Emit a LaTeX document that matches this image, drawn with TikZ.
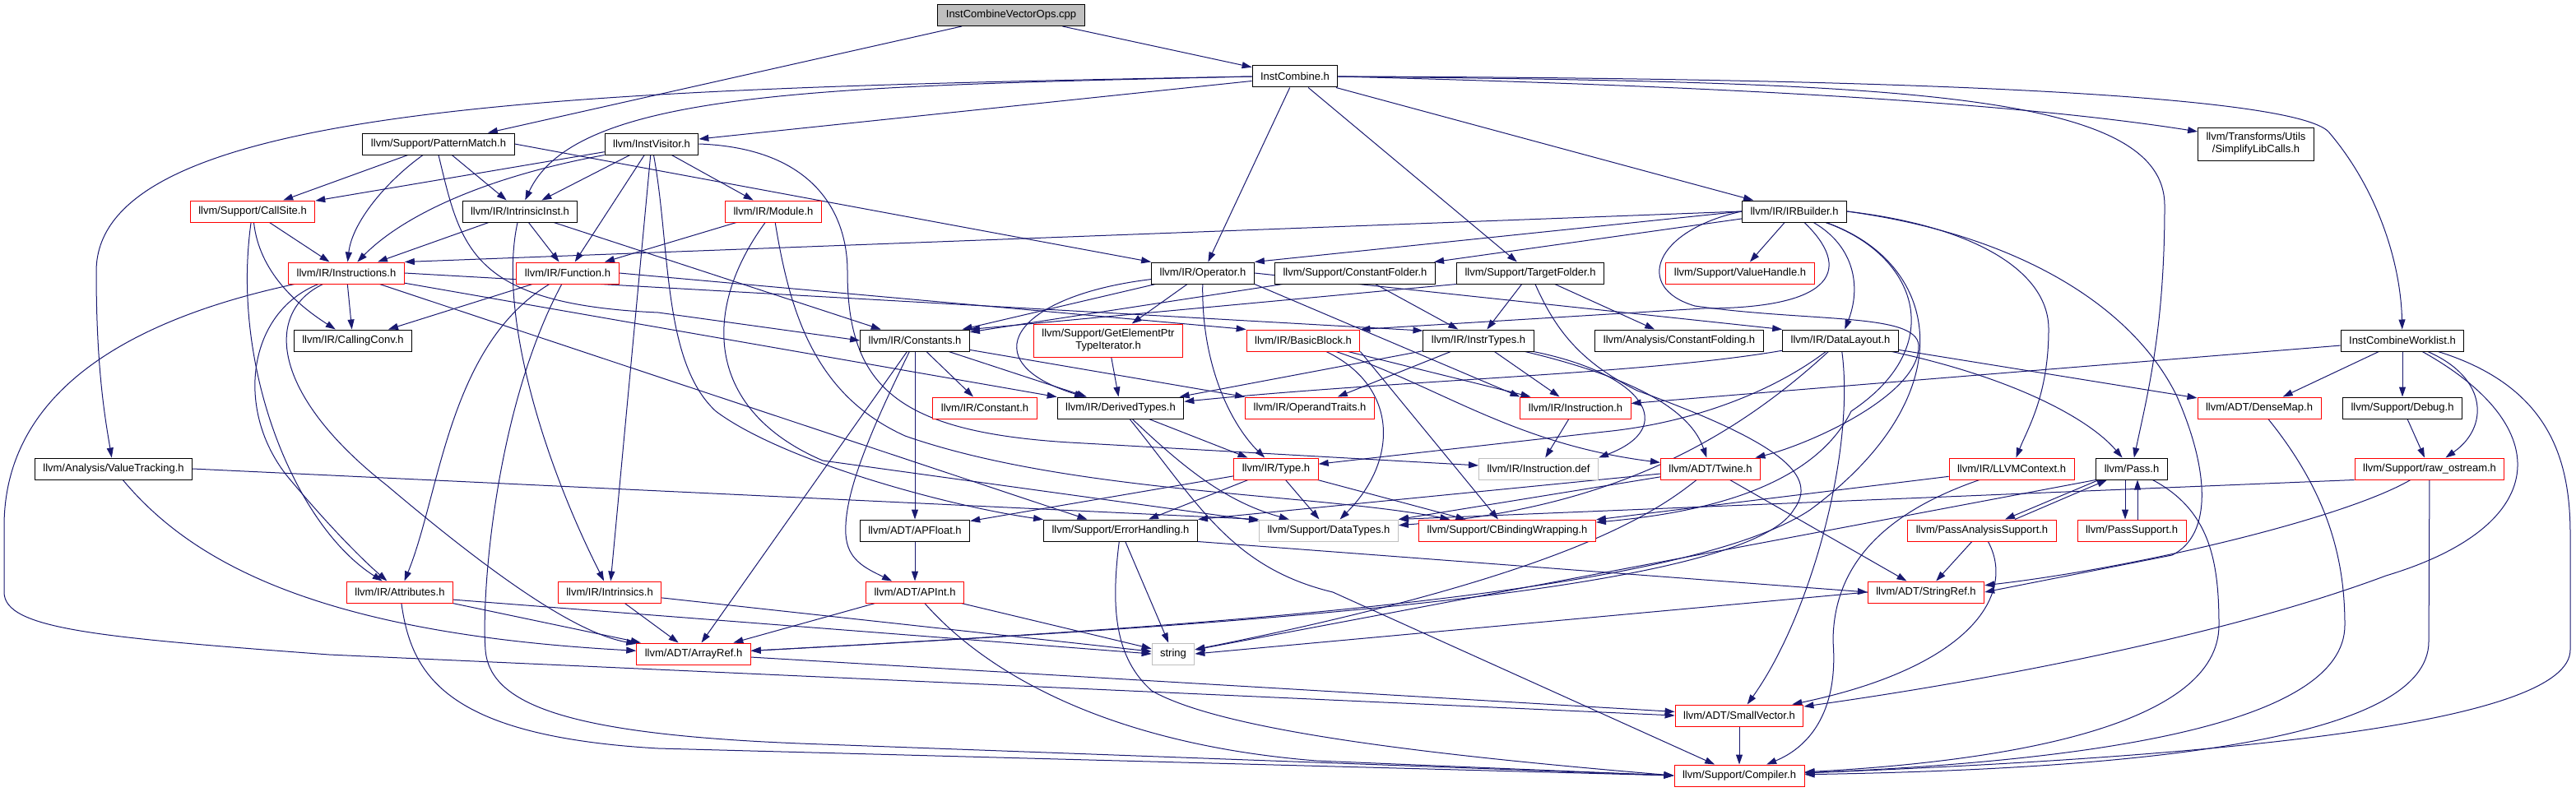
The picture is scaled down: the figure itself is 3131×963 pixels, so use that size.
\documentclass[tikz,border=0pt]{standalone}
\usepackage{fontspec}
\setmainfont{Liberation Sans}
\usetikzlibrary{arrows.meta}
\definecolor{edgeblue}{HTML}{191970}
\definecolor{greyseventyfive}{HTML}{BFBFBF}
\pgfdeclarelayer{bg}
\pgfsetlayers{bg,main}
\begin{document}
\begin{tikzpicture}[x=1pt,y=-1pt,
  nb/.style={draw=black, line width=1.0pt, fill=white, rectangle, minimum height=26pt, inner xsep=10pt, inner ysep=2pt, font=\fontsize{13}{15}\selectfont, text=black},
  rb/.style={nb, draw=red},
  gb/.style={nb, draw=greyseventyfive},
  dep/.style={draw=edgeblue, line width=1.0pt, -{Triangle[length=12pt,width=8pt]}}]
\useasboundingbox (0,0) rectangle (3131,963);

\node[nb, fill=greyseventyfive] (cpp) at (1229,18.5) {InstCombineVectorOps.cpp};
\node[nb] (icomb) at (1574,93) {InstCombine.h};
\node[nb] (pm) at (533,175) {llvm/Support/PatternMatch.h};
\node[nb] (iv) at (792,175) {llvm/InstVisitor.h};
\node[nb, align=center, minimum height=40pt] (slc) at (2742,175) {llvm/Transforms/Utils\\/SimplifyLibCalls.h};
\node[rb] (cs) at (307,257) {llvm/Support/CallSite.h};
\node[nb] (ii) at (632,257) {llvm/IR/IntrinsicInst.h};
\node[rb] (mod) at (940,257) {llvm/IR/Module.h};
\node[nb] (irb) at (2181,257) {llvm/IR/IRBuilder.h};
\node[rb] (insts) at (421,332) {llvm/IR/Instructions.h};
\node[rb] (fn) at (690,332) {llvm/IR/Function.h};
\node[nb] (op) at (1462,332) {llvm/IR/Operator.h};
\node[nb] (cfold) at (1647,332) {llvm/Support/ConstantFolder.h};
\node[nb] (tfold) at (1860,332) {llvm/Support/TargetFolder.h};
\node[rb] (vh) at (2115,332) {llvm/Support/ValueHandle.h};
\node[nb] (cc) at (429,414) {llvm/IR/CallingConv.h};
\node[nb] (consts) at (1112,414) {llvm/IR/Constants.h};
\node[rb, align=center, minimum height=40pt] (gep) at (1347,414) {llvm/Support/GetElementPtr\\TypeIterator.h};
\node[rb] (bb) at (1584,414) {llvm/IR/BasicBlock.h};
\node[nb] (itypes) at (1797,414) {llvm/IR/InstrTypes.h};
\node[nb] (cfolding) at (2041,414) {llvm/Analysis/ConstantFolding.h};
\node[nb] (dl) at (2237,414) {llvm/IR/DataLayout.h};
\node[nb] (icw) at (2920,414) {InstCombineWorklist.h};
\node[rb] (cnst) at (1197,496) {llvm/IR/Constant.h};
\node[nb] (dt) at (1362,496) {llvm/IR/DerivedTypes.h};
\node[rb] (ot) at (1592,496) {llvm/IR/OperandTraits.h};
\node[rb] (inst) at (1915,496) {llvm/IR/Instruction.h};
\node[rb] (dm) at (2746,496) {llvm/ADT/DenseMap.h};
\node[nb] (dbg) at (2920,496) {llvm/Support/Debug.h};
\node[nb] (vt) at (138,570) {llvm/Analysis/ValueTracking.h};
\node[rb] (type) at (1551,570) {llvm/IR/Type.h};
\node[gb] (idef) at (1870,570) {llvm/IR/Instruction.def};
\node[rb] (twine) at (2079,570) {llvm/ADT/Twine.h};
\node[rb] (ctx) at (2445,570) {llvm/IR/LLVMContext.h};
\node[nb] (pass) at (2591,570) {llvm/Pass.h};
\node[rb] (ros) at (2953,570) {llvm/Support/raw\_ostream.h};
\node[nb] (apf) at (1112,645) {llvm/ADT/APFloat.h};
\node[nb] (eh) at (1362,645) {llvm/Support/ErrorHandling.h};
\node[gb] (dtypes) at (1615,645) {llvm/Support/DataTypes.h};
\node[rb] (cbw) at (1832,645) {llvm/Support/CBindingWrapping.h};
\node[rb] (pas) at (2409,645) {llvm/PassAnalysisSupport.h};
\node[rb] (ps) at (2591,645) {llvm/PassSupport.h};
\node[rb] (attr) at (486,720) {llvm/IR/Attributes.h};
\node[rb] (intr) at (741,720) {llvm/IR/Intrinsics.h};
\node[rb] (apint) at (1112,720) {llvm/ADT/APInt.h};
\node[rb] (sref) at (2341,720) {llvm/ADT/StringRef.h};
\node[rb] (aref) at (843,795) {llvm/ADT/ArrayRef.h};
\node[gb] (str) at (1426,795) {string};
\node[rb] (sv) at (2114,870) {llvm/ADT/SmallVector.h};
\node[rb] (comp) at (2114,943) {llvm/Support/Compiler.h};

\begin{pgfonlayer}{bg}
% root
\draw[dep] (cpp) -- (icomb);
\draw[dep] (cpp) -- (pm);
% InstCombine.h
\draw[dep] (icomb) -- (iv);
\draw[dep] (icomb.west) .. controls (1000,105) and (700,110) .. (ii);
\draw[dep] (icomb.west) .. controls (700,108) and (117,125) .. (117,330) .. controls (117,450) and (128,510) .. (vt);
\draw[dep] (icomb) -- (op);
\draw[dep] (icomb) -- (tfold);
\draw[dep] (icomb) -- (irb);
\draw[dep] (icomb.east) .. controls (2100,105) and (2450,125) .. ([yshift=15pt]slc.west);
\draw[dep] (icomb.east) .. controls (2300,100) and (2631,110) .. (2631,250) .. controls (2631,400) and (2610,480) .. (pass);
\draw[dep] (icomb.east) .. controls (2400,95) and (2790,120) .. (2830,160) .. controls (2890,230) and (2918,320) .. (icw);
% PatternMatch
\draw[dep] (pm) -- (cs);
\draw[dep] (pm) .. controls (470,220) and (428,270) .. (insts);
\draw[dep] (pm) -- (ii);
\draw[dep] (pm.east) -- (op.north west);
\draw[dep] (pm.south) .. controls (560,300) and (570,370) .. (800,380) -- (consts.west);
% InstVisitor
\draw[dep] (iv) -- (cs);
\draw[dep] (iv.south west) .. controls (590,215) and (490,262) .. (insts);
\draw[dep] (iv) -- (ii);
\draw[dep] (iv) -- (fn);
\draw[dep] (iv) -- (intr);
\draw[dep] (iv) -- (mod);
\draw[dep] (iv) .. controls (815,300) and (805,440) .. (870,500) .. controls (950,560) and (1150,615) .. (eh);
\draw[dep] (iv.east) .. controls (990,180) and (1030,260) .. (1030,330) .. controls (1030,470) and (1090,525) .. (1300,538) -- (idef);
% CallSite
\draw[dep] (cs) -- (insts);
\draw[dep] (cs) .. controls (315,330) and (360,370) .. (cc);
\draw[dep] (cs) .. controls (280,450) and (360,640) .. (attr);
% IntrinsicInst
\draw[dep] (ii) -- (insts);
\draw[dep] (ii) -- (fn);
\draw[dep] (ii) -- (consts);
\draw[dep] (ii) .. controls (605,380) and (660,560) .. (intr);
% Module
\draw[dep] (mod) -- (fn);
\draw[dep] (mod) .. controls (850,380) and (860,500) .. (1000,560) -- (dtypes);
\draw[dep] (mod) .. controls (960,380) and (990,480) .. (1100,530) .. controls (1300,600) and (1600,600) .. (cbw);
% Function
\draw[dep] (fn) -- (cc);
\draw[dep] (fn) .. controls (545,420) and (535,600) .. (attr);
\draw[dep] (fn.east) -- (bb.north west);
\draw[dep] (fn) .. controls (600,500) and (585,730) .. (590,790) .. controls (595,860) and (700,895) .. (1000,905) -- (comp.west);
% Instructions
\draw[dep] (insts) -- (cc);
\draw[dep] (insts) .. controls (300,380) and (285,500) .. (350,580) .. controls (400,640) and (440,680) .. (attr);
\draw[dep] (insts) .. controls (320,380) and (330,480) .. (470,590) .. controls (600,700) and (700,770) .. (aref);
\draw[dep] (insts) .. controls (150,390) and (5,480) .. (5,640) -- (5,720) .. controls (5,765) and (120,775) .. (400,796) -- (sv.west);
\draw[dep] (insts) -- (eh);
\draw[dep] (insts) -- (dt);
\draw[dep] (insts.east) -- (itypes.170);
% Operator
\draw[dep] (op) -- (consts);
\draw[dep] (op) -- (gep);
\draw[dep] (op) .. controls (1460,450) and (1500,520) .. (type);
\draw[dep] (op) .. controls (1230,360) and (1180,440) .. (dt);
\draw[dep] (op.east) -- (dl.north west);
\draw[dep] (op.south east) -- (inst.north west);
% ConstantFolder
\draw[dep] (cfold) -- (consts);
\draw[dep] (cfold) -- (itypes);
% TargetFolder
\draw[dep] (tfold.south west) -- (consts.north east);
\draw[dep] (tfold) -- (itypes);
\draw[dep] (tfold) -- (cfolding);
\draw[dep] (tfold) .. controls (1890,400) and (1920,440) .. (1990,475) .. controls (2170,540) and (2210,580) .. (2180,620) .. controls (2120,720) and (1500,760) .. (aref);
% IRBuilder
\draw[dep] (irb.west) -- (insts.north east);
\draw[dep] (irb.west) -- (op.north east);
\draw[dep] (irb) -- (cfold);
\draw[dep] ([xshift=12pt]irb.south) .. controls (2250,325) and (2235,375) .. (2070,375) -- (bb.north east);
\draw[dep] (irb) -- (vh);
\draw[dep] (irb) .. controls (2255,300) and (2262,350) .. (dl);
\draw[dep] (irb.west) .. controls (2010,280) and (1985,350) .. (2060,372) .. controls (2200,392) and (2330,380) .. (2332,420) .. controls (2334,480) and (2200,540) .. (twine);
\draw[dep] (irb) .. controls (2330,310) and (2370,420) .. (2250,500) .. controls (2200,600) and (2050,625) .. (cbw);
\draw[dep] (irb) .. controls (2360,320) and (2390,480) .. (2200,620) .. controls (2050,720) and (1500,760) .. (aref);
\draw[dep] (irb.east) .. controls (2400,275) and (2490,330) .. (2490,400) .. controls (2490,480) and (2465,520) .. (ctx);
\draw[dep] (irb.east) .. controls (2450,285) and (2590,370) .. (2645,480) .. controls (2685,570) and (2690,650) .. (2640,675) -- (sref.east);
% Constants
\draw[dep] (consts) -- (apf);
\draw[dep] (consts) -- (cnst);
\draw[dep] (consts) -- (dt);
\draw[dep] (consts) -- (ot);
\draw[dep] (consts) -- (aref);
\draw[dep] (consts) .. controls (1060,520) and (1025,600) .. (1028,650) .. controls (1030,680) and (1050,690) .. (apint);
% GetElementPtrTypeIterator
\draw[dep] (gep) -- (dt);
% BasicBlock
\draw[dep] (bb) -- (inst);
\draw[dep] (bb) .. controls (1700,470) and (1700,560) .. (dtypes);
\draw[dep] (bb.south east) -- (cbw);
\draw[dep] (bb) .. controls (1750,470) and (1840,540) .. (twine);
% InstrTypes
\draw[dep] (itypes) -- (dt);
\draw[dep] (itypes) -- (ot);
\draw[dep] (itypes) -- (inst);
\draw[dep] (itypes) .. controls (2000,455) and (2040,520) .. (idef.north east);
\draw[dep] (itypes) .. controls (1990,460) and (2055,500) .. (twine);
% DataLayout
\draw[dep] (dl) -- (dm);
\draw[dep] (dl) .. controls (2450,460) and (2540,510) .. (pass);
\draw[dep] (dl) .. controls (2255,550) and (2200,750) .. (sv);
\draw[dep] (dl) .. controls (2150,480) and (2050,515) .. (1950,525) -- (type);
\draw[dep] (dl) .. controls (2000,455) and (1700,462) .. (dt);
\draw[dep] (dl) .. controls (2100,540) and (1950,620) .. (dtypes);
% InstCombineWorklist
\draw[dep] (icw) -- (inst);
\draw[dep] (icw) -- (dm);
\draw[dep] (icw) -- (dbg);
\draw[dep] (icw) .. controls (3025,460) and (3025,520) .. (ros);
\draw[dep] (icw) .. controls (3110,520) and (3100,640) .. (2900,700) .. controls (2700,775) and (2400,830) .. (sv);
\draw[dep] (icw) .. controls (3100,470) and (3124,560) .. (3124,650) -- (3124,790) .. controls (3124,880) and (2700,920) .. (comp);
% DenseMap
\draw[dep] (dm) .. controls (2830,600) and (2850,680) .. (2850,760) .. controls (2850,880) and (2550,925) .. (comp);
% Debug
\draw[dep] (dbg) -- (ros);
% raw_ostream
\draw[dep] (ros) .. controls (2850,630) and (2600,690) .. (sref);
\draw[dep] (ros) -- (2952,780) .. controls (2952,900) and (2600,935) .. (comp);
\draw[dep] (ros.south west) -- (dtypes.north east);
% LLVMContext
\draw[dep] (ctx) -- (cbw);
\draw[dep] (ctx) .. controls (2300,620) and (2228,680) .. (2228,780) .. controls (2235,870) and (2195,910) .. (comp);
% Twine
\draw[dep] (twine) -- (dtypes.north east);
\draw[dep] (twine) -- (eh.north east);
\draw[dep] (twine) .. controls (2010,625) and (1900,700) .. (str);
\draw[dep] (twine) -- (sref);
% Type
\draw[dep] (type) -- (apf);
\draw[dep] (type) -- (eh);
\draw[dep] (type) -- (dtypes);
\draw[dep] (type) -- (cbw);
% DerivedTypes
\draw[dep] (dt) -- (type);
\draw[dep] (dt) .. controls (1440,570) and (1490,610) .. (dtypes);
\draw[dep] (dt) .. controls (1455,610) and (1495,690) .. (1620,720) -- (comp);
% Instruction
\draw[dep] (inst) -- (idef);
% ValueTracking
\draw[dep] (vt.east) -- (dtypes.north west);
\draw[dep] (vt) .. controls (230,680) and (380,770) .. (aref);
% APFloat
\draw[dep] (apf) -- (apint);
% ErrorHandling
\draw[dep] (eh) -- (str);
\draw[dep] (eh) .. controls (1350,740) and (1355,800) .. (1400,840) .. controls (1480,885) and (1700,915) .. (comp.west);
\draw[dep] (eh.south east) -- (sref.west);
% Pass
\draw[dep] ([xshift=-40pt]pass.south) -- ([xshift=28pt]pas.north);
\draw[dep] ([xshift=40pt]pas.north) -- ([xshift=-30pt]pass.south);
\draw[dep] ([xshift=-8pt]pass.south) -- ([xshift=-8pt]ps.north);
\draw[dep] ([xshift=7pt]ps.north) -- ([xshift=7pt]pass.south);
\draw[dep] (pass.south west) -- (str);
\draw[dep] (pass) .. controls (2685,620) and (2697,680) .. (2697,760) .. controls (2697,880) and (2450,925) .. (comp);
% PassAnalysisSupport
\draw[dep] (pas) -- (sref);
\draw[dep] (pas) .. controls (2450,720) and (2400,810) .. (sv);
% Attributes
\draw[dep] (attr) -- (aref);
\draw[dep] (attr.-8) -- (str.west);
\draw[dep] (attr) .. controls (500,820) and (540,895) .. (800,910) -- (comp.west);
% Intrinsics
\draw[dep] (intr) -- (aref);
\draw[dep] (intr) -- (str);
% APInt
\draw[dep] (apint) -- (aref);
\draw[dep] (apint) -- (str);
\draw[dep] (apint) .. controls (1200,820) and (1350,905) .. (1600,925) -- (comp.west);
% ArrayRef
\draw[dep] (aref) -- (sv);
% StringRef
\draw[dep] (sref.west) -- (str.east);
% SmallVector
\draw[dep] (sv) -- (comp);
\end{pgfonlayer}
\end{tikzpicture}
\end{document}
